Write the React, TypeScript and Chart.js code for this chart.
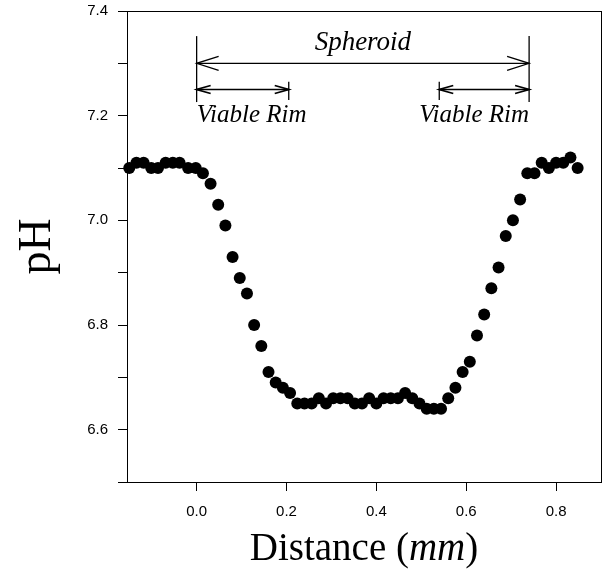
import React, { useEffect, useRef } from "react";
import { Chart, registerables } from "chart.js";

Chart.register(...registerables);

// Distance (mm)
const distance = [
  -0.150, -0.134, -0.118, -0.101, -0.086, -0.069, -0.053, -0.038, -0.019, -0.002,
  0.014, 0.031, 0.048, 0.064, 0.080, 0.096, 0.112, 0.128, 0.144, 0.160,
  0.176, 0.192, 0.208, 0.224, 0.240, 0.256, 0.272, 0.288, 0.304, 0.320,
  0.336, 0.352, 0.368, 0.384, 0.400, 0.416, 0.432, 0.448, 0.464, 0.480,
  0.496, 0.512, 0.528, 0.544, 0.560, 0.576, 0.592, 0.608, 0.624, 0.640,
  0.656, 0.672, 0.688, 0.704, 0.720, 0.736, 0.752, 0.768, 0.784, 0.800,
  0.816, 0.832, 0.848,
];

// pH
const phValues = [
  7.10, 7.11, 7.11, 7.10, 7.10, 7.11, 7.11, 7.11, 7.10, 7.10,
  7.09, 7.07, 7.03, 6.99, 6.93, 6.89, 6.86, 6.80, 6.76, 6.71,
  6.69, 6.68, 6.67, 6.65, 6.65, 6.65, 6.66, 6.65, 6.66, 6.66,
  6.66, 6.65, 6.65, 6.66, 6.65, 6.66, 6.66, 6.66, 6.67, 6.66,
  6.65, 6.64, 6.64, 6.64, 6.66, 6.68, 6.71, 6.73, 6.78, 6.82,
  6.87, 6.91, 6.97, 7.00, 7.04, 7.09, 7.09, 7.11, 7.10, 7.11,
  7.11, 7.12, 7.10,
];

const xTicks = [0.0, 0.2, 0.4, 0.6, 0.8];
const yTicks = [6.5, 6.6, 6.7, 6.8, 6.9, 7.0, 7.1, 7.2, 7.3, 7.4];
const yLabelled = [6.6, 6.8, 7.0, 7.2, 7.4];

const xRange = [-0.155, 0.9];
const yRange = [6.5, 7.4];

// Annotations (data coordinates)
const spheroidSpan = [0, 0.74];
const spheroidLevel = 7.3;
const rimSpans = [
  [0, 0.205],
  [0.54, 0.74],
];
const rimLevel = 7.25;
const mainBarRange = [7.226, 7.352];
const rimBarRange = [7.23, 7.265];
const spheroidLabel = { text: "Spheroid", x: 0.37, y: 7.325 };
const rimLabels = [
  { text: "Viable Rim", x: 0, y: 7.188, align: "left" },
  { text: "Viable Rim", x: 0.74, y: 7.188, align: "right" },
];

const xTitle = ["Distance (", "mm", ")"];
const yTitle = "pH";

const decorPlugin = {
  id: "decor",
  afterDraw(chart: any) {
    const ctx = chart.ctx as CanvasRenderingContext2D;
    const { left, right, top, bottom } = chart.chartArea;
    const xs = chart.scales.x;
    const ys = chart.scales.y;
    const px = (v: number) => xs.getPixelForValue(v);
    const py = (v: number) => ys.getPixelForValue(v);

    ctx.save();
    // frame
    ctx.strokeStyle = "#000";
    ctx.lineWidth = 1;
    ctx.strokeRect(Math.round(left) + 0.5, Math.round(top) + 0.5, Math.round(right - left), Math.round(bottom - top));

    const line = (x1: number, y1: number, x2: number, y2: number) => {
      ctx.beginPath();
      ctx.moveTo(x1, y1);
      ctx.lineTo(x2, y2);
      ctx.stroke();
    };
    const arrowHead = (x: number, y: number, dir: number, len: number, hw: number) => {
      ctx.beginPath();
      ctx.moveTo(x + dir * len, y - hw);
      ctx.lineTo(x, y);
      ctx.lineTo(x + dir * len, y + hw);
      ctx.stroke();
    };

    // main vertical bars
    ctx.lineWidth = 1.3;
    for (const xv of spheroidSpan) {
      const x = px(xv);
      line(x, py(mainBarRange[1]), x, py(mainBarRange[0]));
    }
    // spheroid double arrow
    const sy = py(spheroidLevel);
    const sx1 = px(spheroidSpan[0]);
    const sx2 = px(spheroidSpan[1]);
    line(sx1, sy, sx2, sy);
    arrowHead(sx1, sy, 1, 22, 7);
    arrowHead(sx2, sy, -1, 22, 7);

    // viable rim arrows
    const ry = py(rimLevel);
    for (const [a, b] of rimSpans) {
      const x1 = px(a);
      const x2 = px(b);
      line(x1, ry, x2, ry);
      ctx.lineWidth = 1.8;
      arrowHead(x1, ry, 1, 14, 4);
      arrowHead(x2, ry, -1, 14, 4);
      ctx.lineWidth = 1.3;
    }
    // small rim bars
    const smallBars = [rimSpans[0][1], rimSpans[1][0]];
    for (const xv of smallBars) {
      const x = px(xv);
      line(x, py(rimBarRange[1]), x, py(rimBarRange[0]));
    }

    // annotation labels
    ctx.fillStyle = "#000";
    ctx.textBaseline = "alphabetic";
    ctx.font = "italic 27px 'Liberation Serif', serif";
    ctx.textAlign = "center";
    ctx.fillText(spheroidLabel.text, px(spheroidLabel.x), py(spheroidLabel.y));
    ctx.font = "italic 25px 'Liberation Serif', serif";
    for (const l of rimLabels) {
      ctx.textAlign = l.align as CanvasTextAlign;
      ctx.fillText(l.text, px(l.x), py(l.y));
    }

    // x title with mixed styles
    const regular = "39px 'Liberation Serif', serif";
    const italic = "italic 39px 'Liberation Serif', serif";
    const fonts = [regular, italic, regular];
    let total = 0;
    const widths = xTitle.map((t, i) => {
      ctx.font = fonts[i];
      const w = ctx.measureText(t).width;
      total += w;
      return w;
    });
    let cx = (left + right) / 2 - total / 2;
    ctx.textAlign = "left";
    xTitle.forEach((t, i) => {
      ctx.font = fonts[i];
      ctx.fillText(t, cx, 560);
      cx += widths[i];
    });

    // y title
    ctx.save();
    ctx.translate(50, (top + bottom) / 2);
    ctx.rotate(-Math.PI / 2);
    ctx.font = "46px 'Liberation Serif', serif";
    ctx.textAlign = "center";
    ctx.fillText(yTitle, 0, 0);
    ctx.restore();

    ctx.restore();
  },
};

export default function App() {
  const ref = useRef<HTMLCanvasElement | null>(null);

  useEffect(() => {
    if (!ref.current) return;
    const points = distance.map((x, i) => ({ x, y: phValues[i] }));
    const tickFont = { family: "'Liberation Sans', Arial, sans-serif", size: 15 };
    const chart = new Chart(ref.current, {
      type: "scatter",
      data: {
        datasets: [
          {
            data: points,
            backgroundColor: "#000",
            borderColor: "#000",
            pointRadius: 6,
            pointHoverRadius: 6,
            borderWidth: 0,
            clip: false as any,
          },
        ],
      },
      plugins: [decorPlugin],
      options: {
        animation: false,
        responsive: false,
        events: [],
        layout: { padding: { top: 11, right: 5, left: 0, bottom: 0 } },
        plugins: { legend: { display: false }, tooltip: { enabled: false } },
        scales: {
          x: {
            type: "linear",
            min: xRange[0],
            max: xRange[1],
            afterBuildTicks: (s: any) => {
              s.ticks = xTicks.map((v) => ({ value: v }));
            },
            afterFit: (s: any) => {
              s.height = 95;
              s.paddingLeft = 0;
              s.paddingRight = 0;
            },
            ticks: {
              callback: (v: any) => Number(v).toFixed(1),
              font: tickFont,
              color: "#000",
              padding: 12,
              maxRotation: 0,
            },
            grid: { drawOnChartArea: false, tickLength: 9, color: "#000", tickColor: "#000" },
            border: { color: "#000", width: 1 },
          },
          y: {
            type: "linear",
            min: yRange[0],
            max: yRange[1],
            afterBuildTicks: (s: any) => {
              s.ticks = yTicks.map((v) => ({ value: v }));
            },
            afterFit: (s: any) => {
              s.width = 127;
              s.paddingTop = 0;
              s.paddingBottom = 0;
            },
            ticks: {
              callback: (v: any) =>
                yLabelled.some((l) => Math.abs(l - Number(v)) < 1e-6) ? Number(v).toFixed(1) : "",
              font: tickFont,
              color: "#000",
              padding: 10,
            },
            grid: { drawOnChartArea: false, tickLength: 9, color: "#000", tickColor: "#000" },
            border: { color: "#000", width: 1 },
          },
        },
      },
    });
    return () => chart.destroy();
  }, []);

  return (
    <div style={{ position: "absolute", left: 0, top: 0, width: 607, height: 577, background: "#fff" }}>
      <canvas ref={ref} width={607} height={577} style={{ display: "block" }} />
    </div>
  );
}
